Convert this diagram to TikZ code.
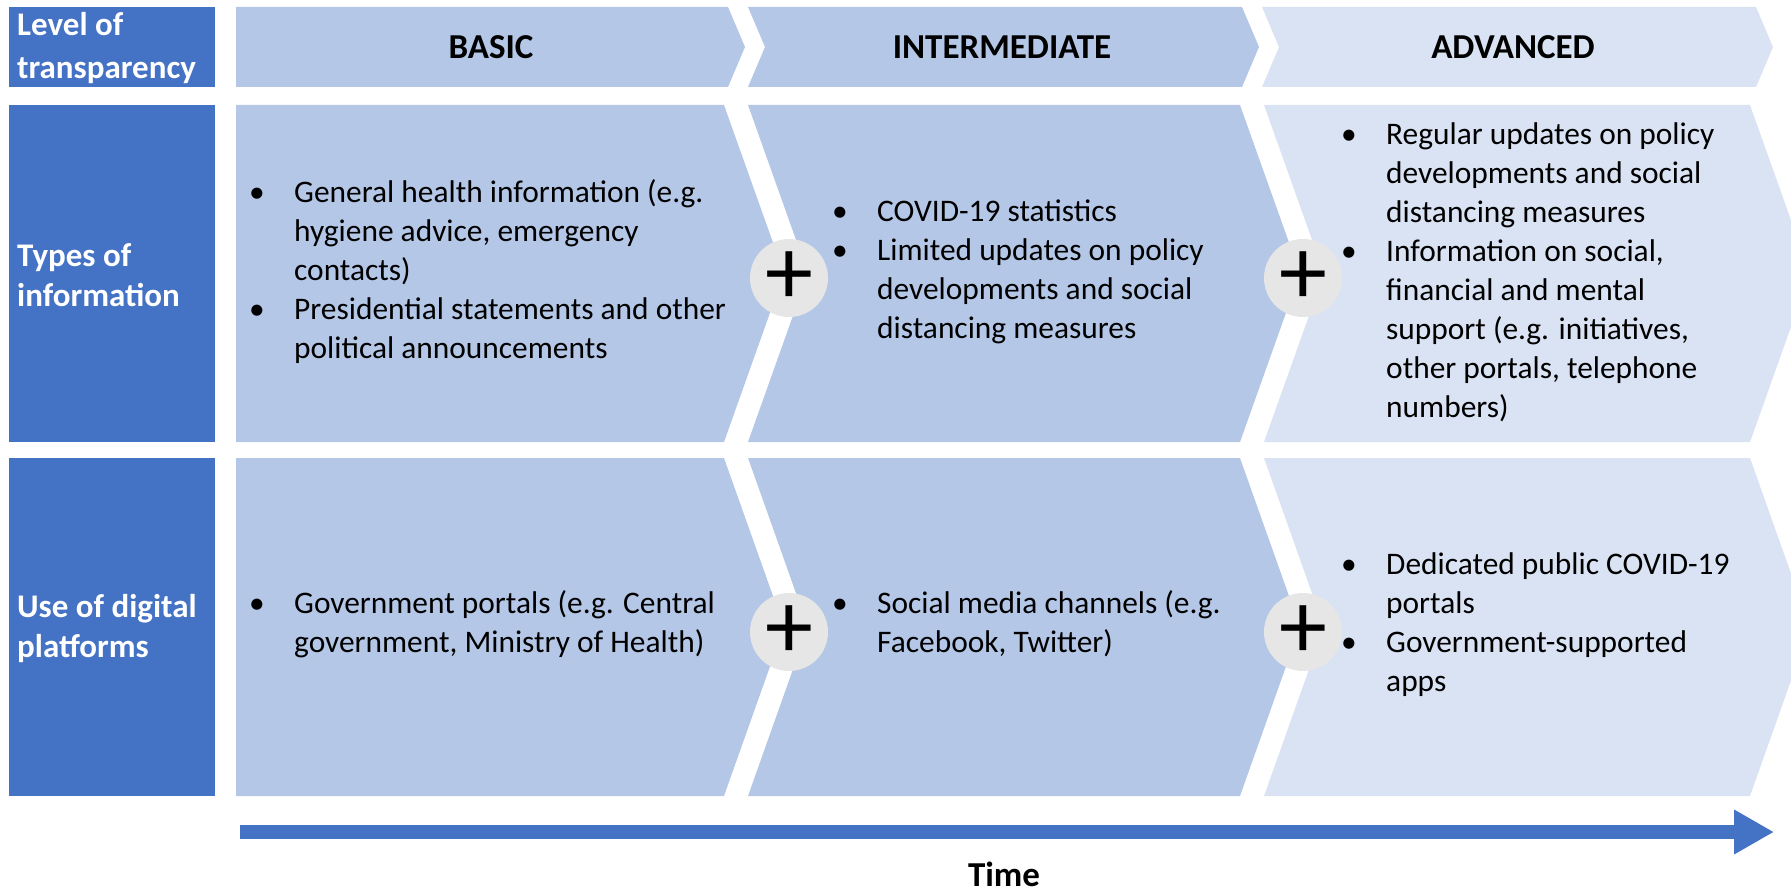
\documentclass[tikz,border=0pt]{standalone}
\usepackage{fontspec}
\setmainfont{Carlito}
\usetikzlibrary{arrows.meta}
\definecolor{hdrblue}{HTML}{4472C4}
\definecolor{midblue}{HTML}{B4C7E7}
\definecolor{paleblue}{HTML}{DAE3F3}
\definecolor{plusgray}{HTML}{E7E6E6}
% bullet with hanging indent
\newcommand{\bitem}{\makebox[40pt][l]{\hspace*{-5pt}•}}
\newcommand{\cont}{\hspace*{40pt}}
\begin{document}
\begin{tikzpicture}[x=1pt,y=-1pt,
  body/.style={font=\fontsize{31.4}{39}\selectfont, align=left, anchor=west, inner sep=0pt, text=black},
  phase/.style={font=\fontsize{35}{39}\selectfont\bfseries, inner sep=0pt, text=black},
  rowlabel/.style={font=\fontsize{33}{40}\selectfont\bfseries, text=white, align=left, anchor=west, inner sep=0pt},
  plus/.style={circle, fill=plusgray, minimum size=78pt, inner sep=0pt, font=\fontsize{96}{96}\selectfont}]
\useasboundingbox (0,0) rectangle (1791,893);

% row label boxes
\fill[hdrblue] (9,7) rectangle (215,87);
\fill[hdrblue] (9,105) rectangle (215,442);
\fill[hdrblue] (9,458) rectangle (215,796);

% header chevrons
\fill[midblue] (236,7) -- (728,7) -- (745,47) -- (728,87) -- (236,87) -- cycle;
\fill[midblue] (748,7) -- (1242,7) -- (1259,47) -- (1242,87) -- (748,87) -- (765,47) -- cycle;
\fill[paleblue] (1262,7) -- (1756,7) -- (1773,47) -- (1756,87) -- (1262,87) -- (1279,47) -- cycle;

% types of information chevrons
\fill[midblue] (236,105) -- (724,105) -- (784,273.5) -- (724,442) -- (236,442) -- cycle;
\fill[midblue] (748,105) -- (1240,105) -- (1300,273.5) -- (1240,442) -- (748,442) -- (808,273.5) -- cycle;
\fill[paleblue] (1264,105) -- (1750,105) -- (1810,273.5) -- (1750,442) -- (1264,442) -- (1324,273.5) -- cycle;

% digital platform chevrons
\fill[midblue] (236,458) -- (724,458) -- (784,627) -- (724,796) -- (236,796) -- cycle;
\fill[midblue] (748,458) -- (1240,458) -- (1300,627) -- (1240,796) -- (748,796) -- (808,627) -- cycle;
\fill[paleblue] (1264,458) -- (1750,458) -- (1810,627) -- (1750,796) -- (1264,796) -- (1324,627) -- cycle;

% row labels
\node[rowlabel, font=\fontsize{33}{43}\selectfont\bfseries] (lvl) at (17,48) {Level of\\transparency};
\node[rowlabel] (types) at (17,275) {Types of\\information};
\node[rowlabel] (digital) at (17,629) {Use of digital\\platforms};

% phase titles
\node[phase] (basic) at (491,47) {BASIC};
\node[phase] (inter) at (1002,47) {INTERMEDIATE};
\node[phase] (adv) at (1513,47) {ADVANCED};

% types of information
\node[body] (t1) at (254,272) {\bitem General health information (e.g.\\
\cont hygiene advice, emergency\\
\cont contacts)\\
\bitem Presidential statements and other\\
\cont political announcements};
\node[body] (t2) at (837,272) {\bitem COVID-19 statistics\\
\bitem Limited updates on policy\\
\cont developments and social\\
\cont distancing measures};
\node[body] (t3) at (1346,272) {\bitem Regular updates on policy\\
\cont developments and social\\
\cont distancing measures\\
\bitem Information on social,\\
\cont financial and mental\\
\cont support (e.g. initiatives,\\
\cont other portals, telephone\\
\cont numbers)};

% digital platforms
\node[body] (d1) at (254,624) {\bitem Government portals (e.g. Central\\
\cont government, Ministry of Health)};
\node[body] (d2) at (837,624) {\bitem Social media channels (e.g.\\
\cont Facebook, Twitter)};
\node[body] (d3) at (1346,625) {\bitem Dedicated public COVID-19\\
\cont portals\\
\bitem Government-supported\\
\cont apps};

% plus markers between phases
\node[plus] (p1) at (789,278) {+};
\node[plus] (p2) at (1303,278) {+};
\node[plus] (p3) at (789,632) {+};
\node[plus] (p4) at (1303,632) {+};

% time axis
\coordinate (tstart) at (240,832);
\coordinate (tend) at (1774,832);
\draw[hdrblue, line width=14pt, -{Triangle[length=40pt,width=42pt]}] (tstart) -- (tend);
\node[phase] (time) at (1004,874) {Time};
\end{tikzpicture}
\end{document}
